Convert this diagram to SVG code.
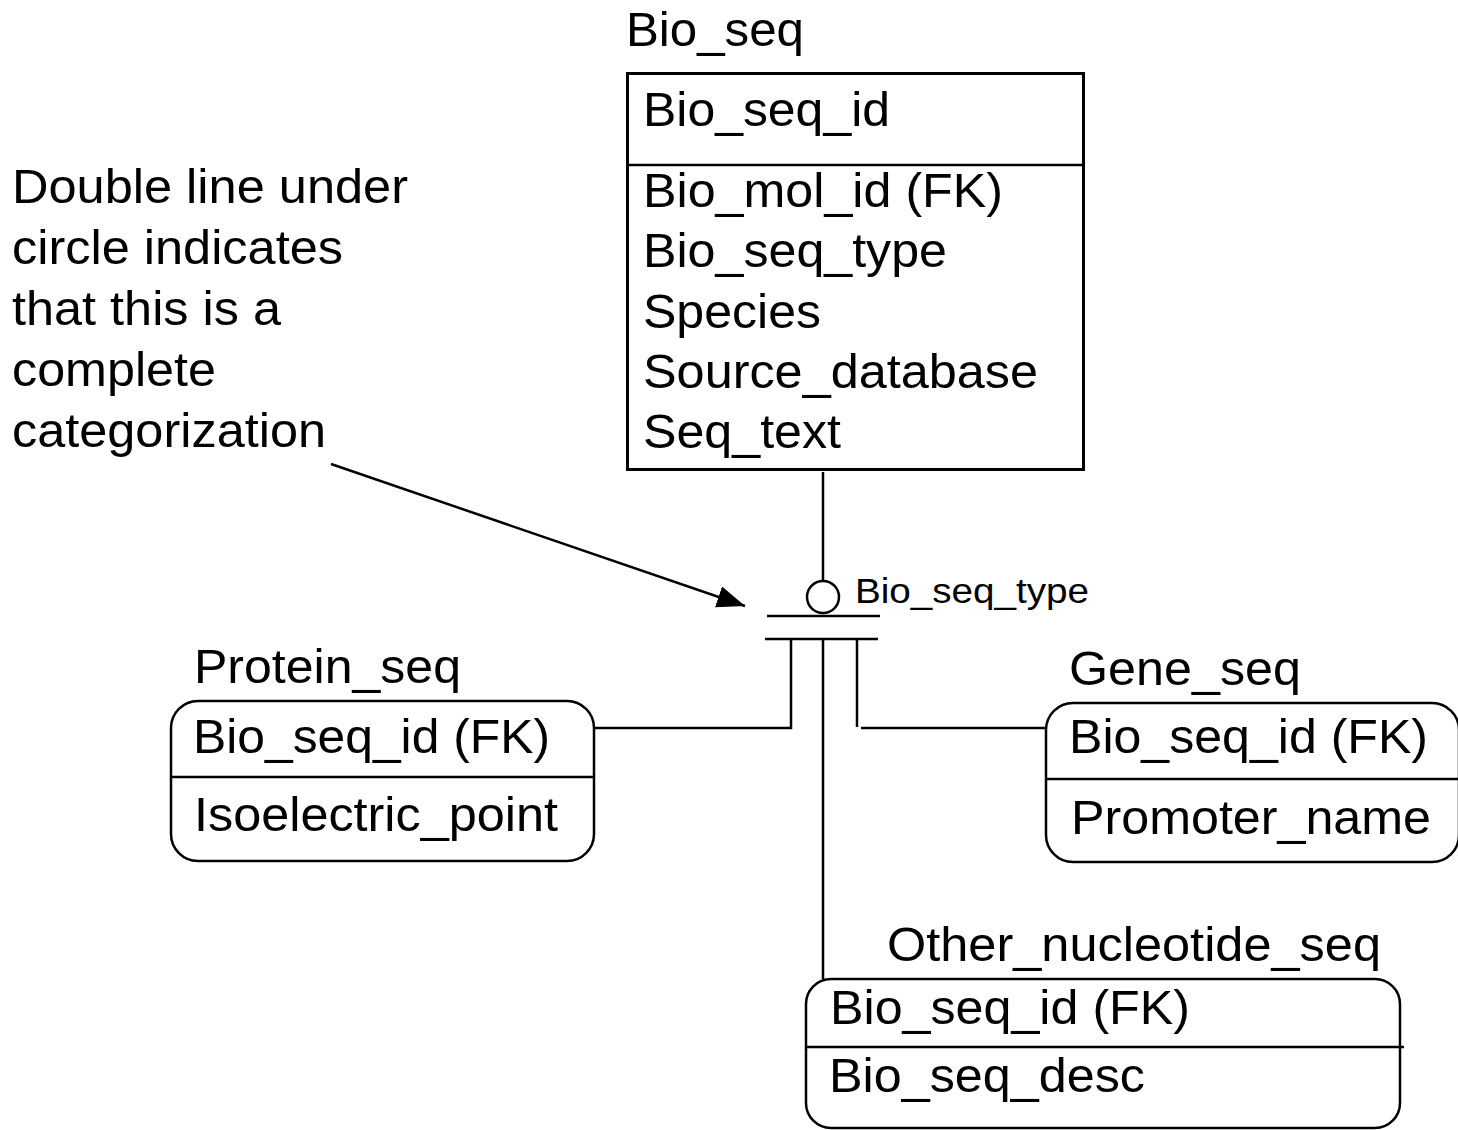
<svg xmlns="http://www.w3.org/2000/svg" width="1458" height="1130" viewBox="0 0 1458 1130">
  <style>
    text { font-family: "Liberation Sans", Arial, sans-serif; fill: #000; }
    .t { font-size: 48.5px; }
    .s { font-size: 35px; }
    .box { fill: #fff; stroke: #000; stroke-width: 2.5; }
    .ln { fill: none; stroke: #000; stroke-width: 2.5; }
  </style>
  <defs>
    <marker id="head" viewBox="0 0 28 22" refX="28" refY="11" markerWidth="28" markerHeight="22" markerUnits="userSpaceOnUse" orient="auto">
      <path d="M0,0 L28,11 L0,22 Z" fill="#000"/>
    </marker>
  </defs>
  <rect width="1458" height="1130" fill="#fff"/>

  <!-- annotation -->
  <g id="note">
    <text class="t" x="12" y="203" textLength="396" lengthAdjust="spacingAndGlyphs">Double line under</text>
    <text class="t" x="12" y="264" textLength="331" lengthAdjust="spacingAndGlyphs">circle indicates</text>
    <text class="t" x="12" y="325" textLength="269" lengthAdjust="spacingAndGlyphs">that this is a</text>
    <text class="t" x="12" y="386" textLength="204" lengthAdjust="spacingAndGlyphs">complete</text>
    <text class="t" x="12" y="447" textLength="314" lengthAdjust="spacingAndGlyphs">categorization</text>
  </g>

  <!-- supertype entity -->
  <g id="bio_seq">
    <text class="t" x="626" y="46" textLength="178" lengthAdjust="spacingAndGlyphs">Bio_seq</text>
    <rect x="627.5" y="73.5" width="456" height="396" fill="#fff" stroke="#000" stroke-width="3"/>
    <line class="ln" x1="627" y1="165" x2="1084" y2="165"/>
    <text class="t" x="643" y="126" textLength="247" lengthAdjust="spacingAndGlyphs">Bio_seq_id</text>
    <text class="t" x="643" y="207" textLength="360" lengthAdjust="spacingAndGlyphs">Bio_mol_id (FK)</text>
    <text class="t" x="643" y="267" textLength="304" lengthAdjust="spacingAndGlyphs">Bio_seq_type</text>
    <text class="t" x="643" y="328" textLength="178" lengthAdjust="spacingAndGlyphs">Species</text>
    <text class="t" x="643" y="388" textLength="395" lengthAdjust="spacingAndGlyphs">Source_database</text>
    <text class="t" x="643" y="448" textLength="198" lengthAdjust="spacingAndGlyphs">Seq_text</text>
  </g>

  <!-- subtype entities -->
  <g id="protein_seq">
    <text class="t" x="194" y="683" textLength="267" lengthAdjust="spacingAndGlyphs">Protein_seq</text>
    <rect class="box" x="171" y="701" width="423" height="160" rx="27" ry="27"/>
    <line class="ln" x1="171" y1="777" x2="594" y2="777"/>
    <text class="t" x="193" y="753" textLength="357" lengthAdjust="spacingAndGlyphs">Bio_seq_id (FK)</text>
    <text class="t" x="194" y="831" textLength="364" lengthAdjust="spacingAndGlyphs">Isoelectric_point</text>
  </g>

  <g id="gene_seq">
    <text class="t" x="1069" y="685" textLength="232" lengthAdjust="spacingAndGlyphs">Gene_seq</text>
    <rect class="box" x="1046" y="703" width="413" height="159" rx="27" ry="27"/>
    <line class="ln" x1="1046" y1="779" x2="1458" y2="779"/>
    <text class="t" x="1069" y="753" textLength="359" lengthAdjust="spacingAndGlyphs">Bio_seq_id (FK)</text>
    <text class="t" x="1071" y="834" textLength="360" lengthAdjust="spacingAndGlyphs">Promoter_name</text>
  </g>

  <g id="other_nucleotide_seq">
    <text class="t" x="887" y="961" textLength="494" lengthAdjust="spacingAndGlyphs">Other_nucleotide_seq</text>
    <rect class="box" x="806" y="979" width="594" height="149" rx="25" ry="25"/>
    <line class="ln" x1="806" y1="1047" x2="1404" y2="1047"/>
    <text class="t" x="830" y="1024" textLength="360" lengthAdjust="spacingAndGlyphs">Bio_seq_id (FK)</text>
    <text class="t" x="829" y="1092" textLength="316" lengthAdjust="spacingAndGlyphs">Bio_seq_desc</text>
  </g>

  <!-- categorization symbol and relationship lines -->
  <g id="connectors">
    <line class="ln" x1="823" y1="472" x2="823" y2="581"/>
    <circle class="ln" cx="823" cy="597" r="16"/>
    <line class="ln" x1="767" y1="616" x2="880" y2="616"/>
    <line class="ln" x1="765" y1="639" x2="878" y2="639"/>
    <polyline class="ln" points="791,639 791,728 594,728"/>
    <line class="ln" x1="823" y1="639" x2="823" y2="979"/>
    <line class="ln" x1="857" y1="639" x2="857" y2="727"/>
    <line class="ln" x1="861" y1="728" x2="1046" y2="728"/>
    <line class="ln" x1="331" y1="464" x2="745" y2="606" marker-end="url(#head)"/>
    <text class="s" x="855" y="603" textLength="234" lengthAdjust="spacingAndGlyphs">Bio_seq_type</text>
  </g>
</svg>
